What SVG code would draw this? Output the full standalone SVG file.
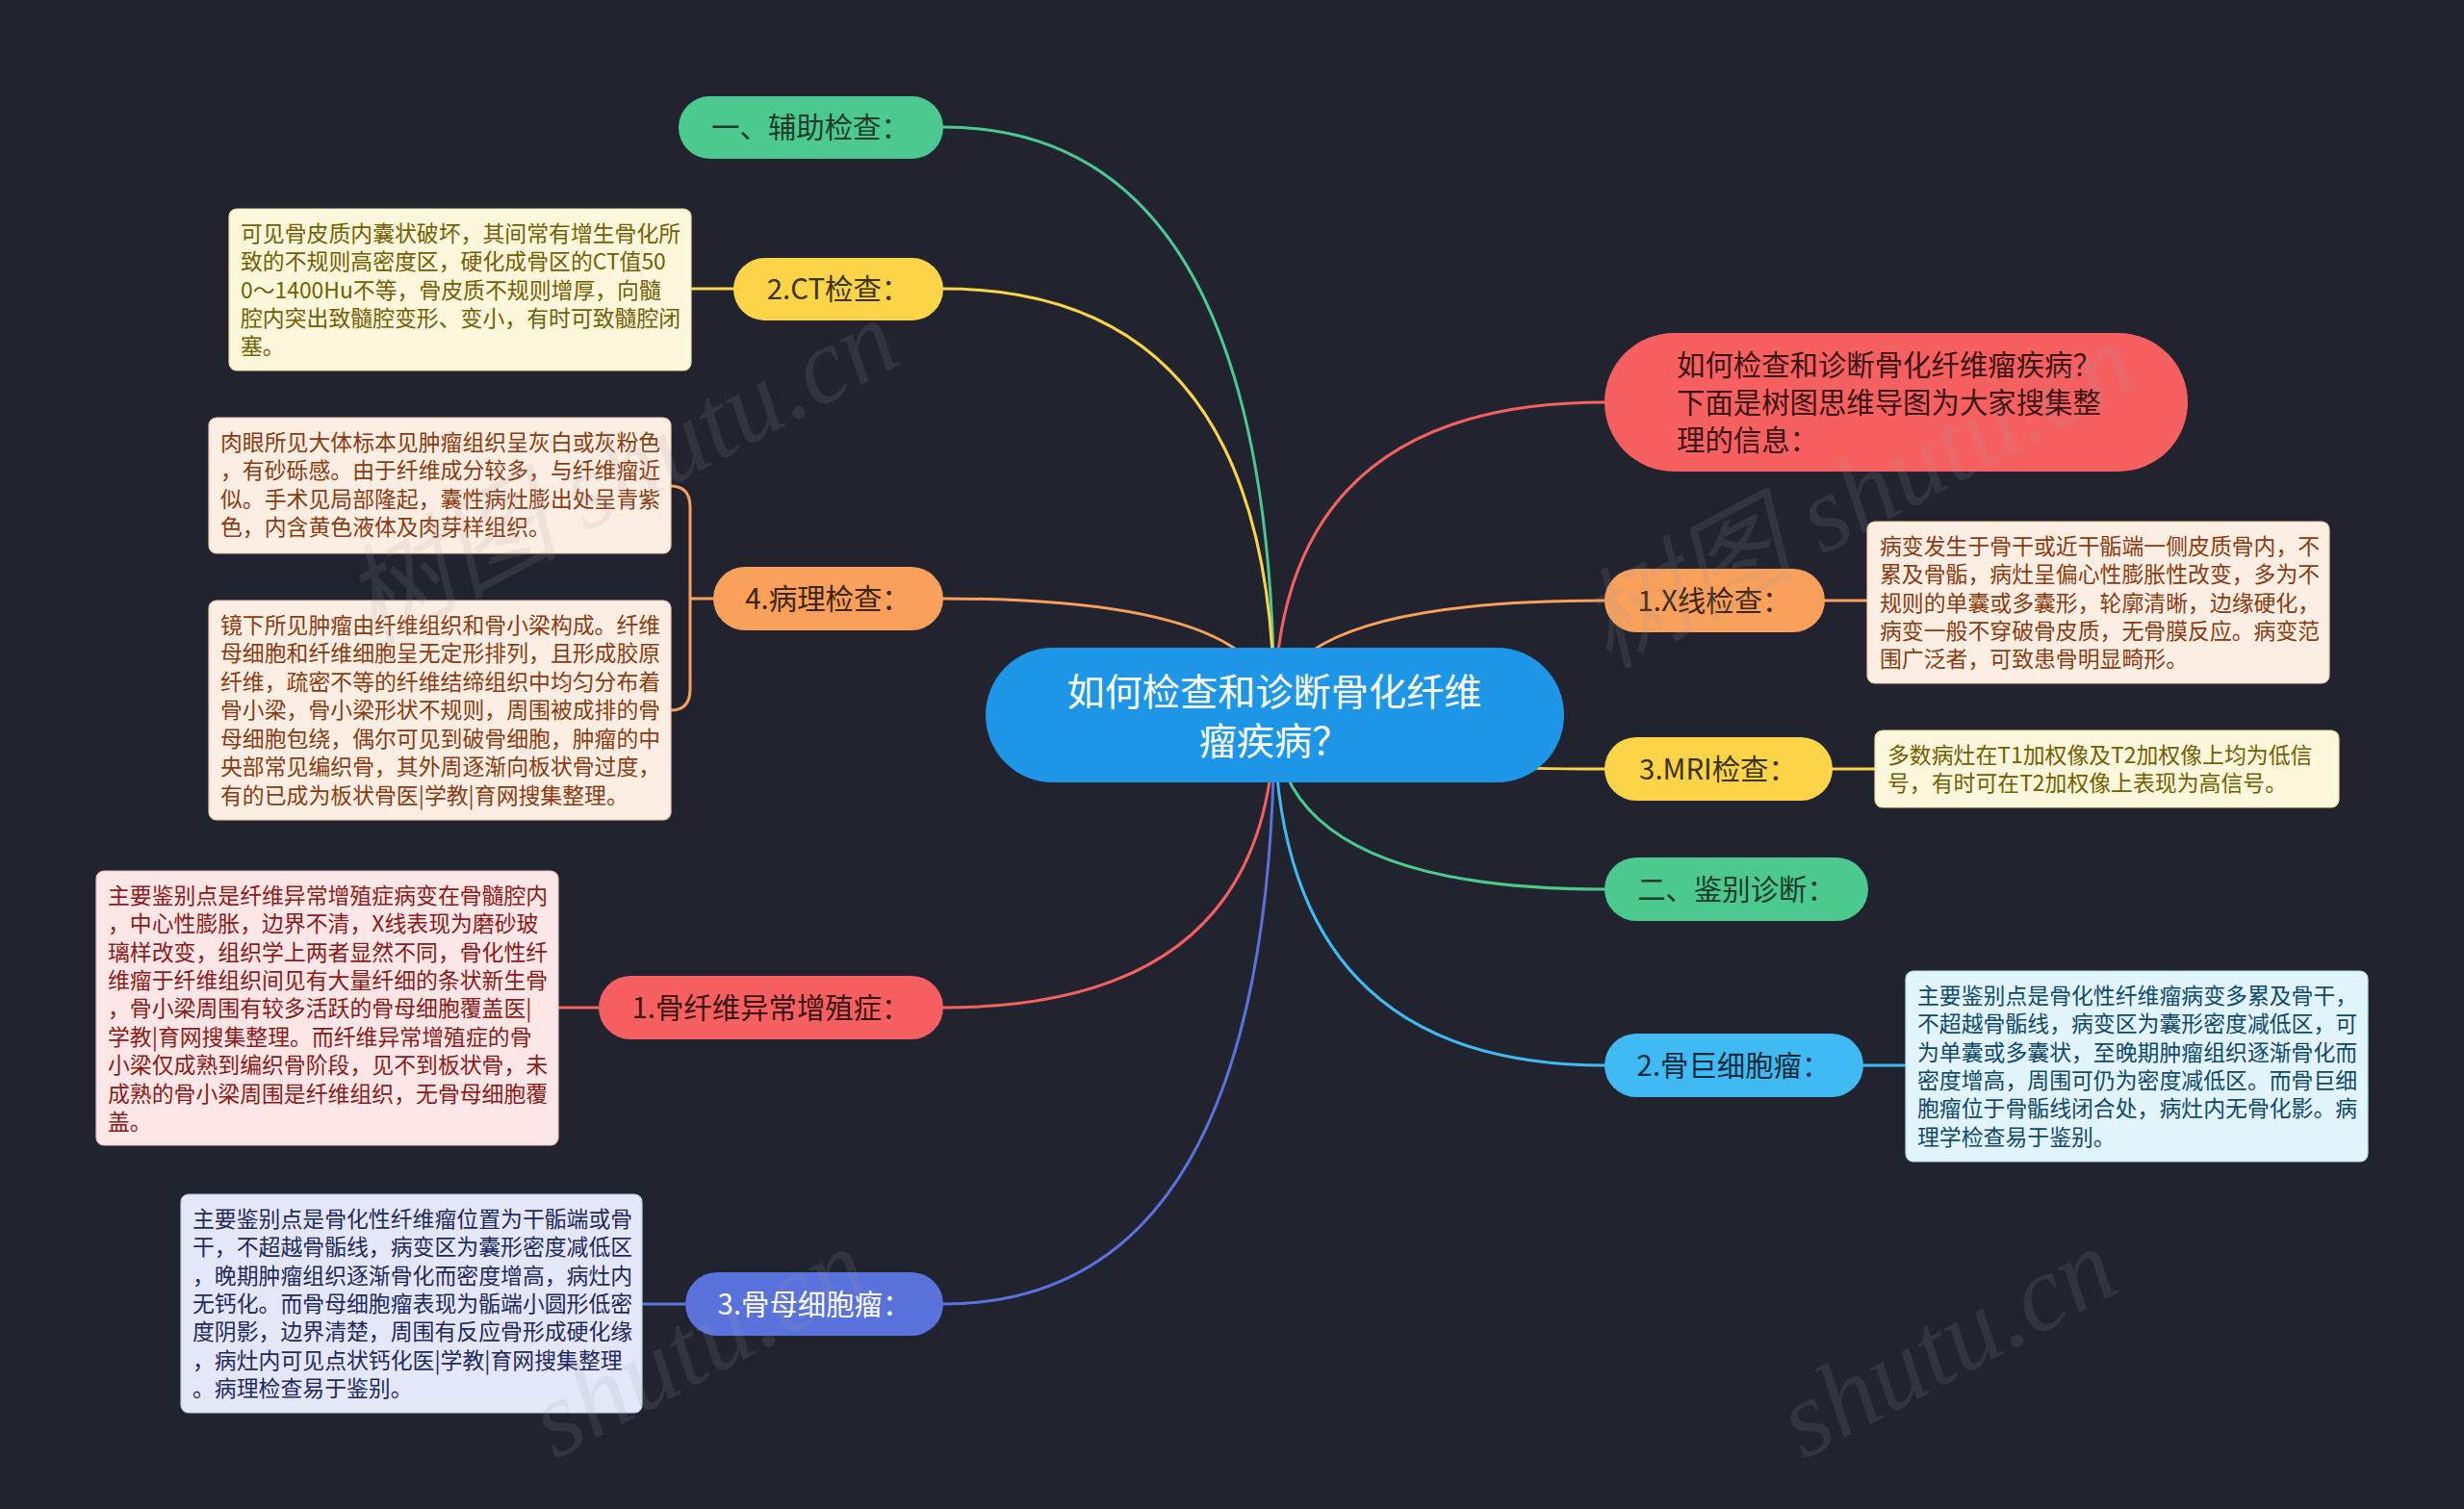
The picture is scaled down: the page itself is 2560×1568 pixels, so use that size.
<svg xmlns="http://www.w3.org/2000/svg" width="2560" height="1568" viewBox="0 0 2560 1568">
<defs>
<style>
.bg{fill:#21232f}
.cn{fill:none;stroke-width:3;stroke-linecap:round}
.t{font-family:"Noto Sans CJK SC","Noto Sans",sans-serif}
.nt{font-size:29.4px}
.bt{font-size:22.86px}
.box{stroke-width:1.2}
.wm{font-family:"Liberation Serif","Noto Sans CJK SC",serif;font-size:112px;font-style:italic;fill:#9a9aa6;fill-opacity:0.14}
</style>
</defs>
<rect class="bg" x="0" y="0" width="2560" height="1568"/>

<g id="connectors">
<path class="cn" stroke="#4cc98e" d="M1324 743 Q1324 132 980 132"/>
<path class="cn" stroke="#fcd447" d="M1324 743 Q1324 300 980 300"/>
<path class="cn" stroke="#f9a05a" d="M1324 743 Q1324 622 980 622"/>
<path class="cn" stroke="#f66060" d="M1324 743 Q1324 1047 980 1047"/>
<path class="cn" stroke="#5a72db" d="M1324 743 Q1324 1355 980 1355"/>
<path class="cn" stroke="#f66060" d="M1324 743 Q1324 418 1667 418"/>
<path class="cn" stroke="#f9a05a" d="M1324 743 Q1324 624 1667 624"/>
<path class="cn" stroke="#fcd447" d="M1324 743 Q1324 799 1667 799"/>
<path class="cn" stroke="#4cc98e" d="M1324 743 Q1324 924 1667 924"/>
<path class="cn" stroke="#40baf2" d="M1324 743 Q1324 1107 1667 1107"/>
<path class="cn" stroke="#fcd447" d="M762 300 L718 300"/>
<path class="cn" stroke="#f9a05a" d="M741 622 L717 622 M717 622 L717 527 Q717 505 697 505 M717 622 L717 716 Q717 738 697 738"/>
<path class="cn" stroke="#f66060" d="M622 1047 L580 1047"/>
<path class="cn" stroke="#5a72db" d="M712 1355 L667 1355"/>
<path class="cn" stroke="#f9a05a" d="M1896 624 L1940 624"/>
<path class="cn" stroke="#fcd447" d="M1904 799 L1948 799"/>
<path class="cn" stroke="#40baf2" d="M1936 1107 L1980 1107"/>
</g>

<g id="center">
<rect x="1024" y="673" width="601" height="140" rx="70" fill="#1e96e8"/>
<text class="t" x="1324" y="733" font-size="39.2" fill="#ffffff" text-anchor="middle">如何检查和诊断骨化纤维</text>
<text class="t" x="1324" y="784" font-size="39.2" fill="#ffffff" text-anchor="middle">瘤疾病？</text>
</g>

<g id="n-aux">
<rect x="705" y="100" width="275" height="65" rx="32.5" fill="#4cc98e"/>
<text class="t nt" x="842" y="143" fill="#1d3a2b" text-anchor="middle">一、辅助检查：</text>
</g>

<g id="n-ct">
<rect x="762" y="268" width="218" height="65" rx="32.5" fill="#fcd447"/>
<text class="t nt" x="871" y="311" fill="#3a3210" text-anchor="middle">2.CT检查：</text>
</g>
<g id="b-ct">
<rect class="box" x="238" y="217" width="480" height="168" rx="8" fill="#fdf7dc" stroke="#e8dca0"/>
<g class="t bt" fill="#735f00">
<text x="250" y="251">可见骨皮质内囊状破坏，其间常有增生骨化所</text>
<text x="250" y="280">致的不规则高密度区，硬化成骨区的CT值50</text>
<text x="250" y="310">0～1400Hu不等，骨皮质不规则增厚，向髓</text>
<text x="250" y="339">腔内突出致髓腔变形、变小，有时可致髓腔闭</text>
<text x="250" y="368">塞。</text>
</g>
</g>

<g id="n-path">
<rect x="741" y="589" width="239" height="66" rx="33" fill="#f9a05a"/>
<text class="t nt" x="860" y="633" fill="#3d2410" text-anchor="middle">4.病理检查：</text>
</g>
<g id="b-path1">
<rect class="box" x="217" y="434" width="480" height="141" rx="8" fill="#fdeee4" stroke="#ecc9b0"/>
<g class="t bt" fill="#8a3c10">
<text x="229" y="468">肉眼所见大体标本见肿瘤组织呈灰白或灰粉色</text>
<text x="229" y="497">，有砂砾感。由于纤维成分较多，与纤维瘤近</text>
<text x="229" y="527">似。手术见局部隆起，囊性病灶膨出处呈青紫</text>
<text x="229" y="556">色，内含黄色液体及肉芽样组织。</text>
</g>
</g>
<g id="b-path2">
<rect class="box" x="217" y="624" width="480" height="228" rx="8" fill="#fdeee4" stroke="#ecc9b0"/>
<g class="t bt" fill="#8a3c10">
<text x="229" y="658">镜下所见肿瘤由纤维组织和骨小梁构成。纤维</text>
<text x="229" y="687">母细胞和纤维细胞呈无定形排列，且形成胶原</text>
<text x="229" y="717">纤维，疏密不等的纤维结缔组织中均匀分布着</text>
<text x="229" y="746">骨小梁，骨小梁形状不规则，周围被成排的骨</text>
<text x="229" y="776">母细胞包绕，偶尔可见到破骨细胞，肿瘤的中</text>
<text x="229" y="805">央部常见编织骨，其外周逐渐向板状骨过度，</text>
<text x="229" y="835">有的已成为板状骨医|学教|育网搜集整理。</text>
</g>
</g>

<g id="n-fd">
<rect x="622" y="1014" width="358" height="66" rx="33" fill="#f66060"/>
<text class="t nt" x="801" y="1058" fill="#3a1414" text-anchor="middle">1.骨纤维异常增殖症：</text>
</g>
<g id="b-fd">
<rect class="box" x="100" y="905" width="480" height="285" rx="8" fill="#fde6e6" stroke="#efc0c0"/>
<g class="t bt" fill="#8b1a1a">
<text x="112" y="939">主要鉴别点是纤维异常增殖症病变在骨髓腔内</text>
<text x="112" y="968">，中心性膨胀，边界不清，X线表现为磨砂玻</text>
<text x="112" y="998">璃样改变，组织学上两者显然不同，骨化性纤</text>
<text x="112" y="1027">维瘤于纤维组织间见有大量纤细的条状新生骨</text>
<text x="112" y="1056">，骨小梁周围有较多活跃的骨母细胞覆盖医|</text>
<text x="112" y="1086">学教|育网搜集整理。而纤维异常增殖症的骨</text>
<text x="112" y="1115">小梁仅成熟到编织骨阶段，见不到板状骨，未</text>
<text x="112" y="1145">成熟的骨小梁周围是纤维组织，无骨母细胞覆</text>
<text x="112" y="1174">盖。</text>
</g>
</g>

<g id="n-ob">
<rect x="712" y="1322" width="268" height="66" rx="33" fill="#5a72db"/>
<text class="t nt" x="846" y="1366" fill="#ffffff" text-anchor="middle">3.骨母细胞瘤：</text>
</g>
<g id="b-ob">
<rect class="box" x="188" y="1241" width="479" height="227" rx="8" fill="#e4e7f7" stroke="#c3c9ea"/>
<g class="t bt" fill="#1e2a5e">
<text x="200" y="1275">主要鉴别点是骨化性纤维瘤位置为干骺端或骨</text>
<text x="200" y="1304">干，不超越骨骺线，病变区为囊形密度减低区</text>
<text x="200" y="1334">，晚期肿瘤组织逐渐骨化而密度增高，病灶内</text>
<text x="200" y="1363">无钙化。而骨母细胞瘤表现为骺端小圆形低密</text>
<text x="200" y="1392">度阴影，边界清楚，周围有反应骨形成硬化缘</text>
<text x="200" y="1422">，病灶内可见点状钙化医|学教|育网搜集整理</text>
<text x="200" y="1451">。病理检查易于鉴别。</text>
</g>
</g>

<g id="n-intro">
<rect x="1667" y="346" width="606" height="144" rx="72" fill="#f66060"/>
<g class="t nt" fill="#3a1414">
<text x="1742" y="390">如何检查和诊断骨化纤维瘤疾病？</text>
<text x="1742" y="429">下面是树图思维导图为大家搜集整</text>
<text x="1742" y="468">理的信息：</text>
</g>
</g>

<g id="n-xray">
<rect x="1667" y="591" width="229" height="66" rx="33" fill="#f9a05a"/>
<text class="t nt" x="1781" y="635" fill="#3d2410" text-anchor="middle">1.X线检查：</text>
</g>
<g id="b-xray">
<rect class="box" x="1940" y="542" width="480" height="168" rx="8" fill="#fdeee4" stroke="#ecc9b0"/>
<g class="t bt" fill="#8a3c10">
<text x="1953" y="576">病变发生于骨干或近干骺端一侧皮质骨内，不</text>
<text x="1953" y="605">累及骨骺，病灶呈偏心性膨胀性改变，多为不</text>
<text x="1953" y="635">规则的单囊或多囊形，轮廓清晰，边缘硬化，</text>
<text x="1953" y="664">病变一般不穿破骨皮质，无骨膜反应。病变范</text>
<text x="1953" y="693">围广泛者，可致患骨明显畸形。</text>
</g>
</g>

<g id="n-mri">
<rect x="1667" y="766" width="237" height="66" rx="33" fill="#fcd447"/>
<text class="t nt" x="1785" y="810" fill="#3a3210" text-anchor="middle">3.MRI检查：</text>
</g>
<g id="b-mri">
<rect class="box" x="1948" y="759" width="482" height="80" rx="8" fill="#fdf7dc" stroke="#e8dca0"/>
<g class="t bt" fill="#735f00">
<text x="1961" y="793">多数病灶在T1加权像及T2加权像上均为低信</text>
<text x="1961" y="822">号，有时可在T2加权像上表现为高信号。</text>
</g>
</g>

<g id="n-diff">
<rect x="1667" y="891" width="274" height="66" rx="33" fill="#4cc98e"/>
<text class="t nt" x="1804" y="935" fill="#1d3a2b" text-anchor="middle">二、鉴别诊断：</text>
</g>

<g id="n-gct">
<rect x="1667" y="1074" width="269" height="66" rx="33" fill="#40baf2"/>
<text class="t nt" x="1801" y="1118" fill="#0e2a3a" text-anchor="middle">2.骨巨细胞瘤：</text>
</g>
<g id="b-gct">
<rect class="box" x="1980" y="1009" width="480" height="198" rx="8" fill="#e2f4fc" stroke="#b6def0"/>
<g class="t bt" fill="#0f4a6a">
<text x="1992" y="1043">主要鉴别点是骨化性纤维瘤病变多累及骨干，</text>
<text x="1992" y="1072">不超越骨骺线，病变区为囊形密度减低区，可</text>
<text x="1992" y="1102">为单囊或多囊状，至晚期肿瘤组织逐渐骨化而</text>
<text x="1992" y="1131">密度增高，周围可仍为密度减低区。而骨巨细</text>
<text x="1992" y="1160">胞瘤位于骨骺线闭合处，病灶内无骨化影。病</text>
<text x="1992" y="1190">理学检查易于鉴别。</text>
</g>
</g>

<g id="watermarks">
<text class="wm" x="645" y="490" text-anchor="middle" dominant-baseline="central" transform="rotate(-28 645 490)">树图 shutu.cn</text>
<text class="wm" x="1930" y="514" text-anchor="middle" dominant-baseline="central" transform="rotate(-28 1930 514)">树图 shutu.cn</text>
<text class="wm" x="725" y="1395" text-anchor="middle" dominant-baseline="central" transform="rotate(-28 725 1395)">shutu.cn</text>
<text class="wm" x="2022" y="1395" text-anchor="middle" dominant-baseline="central" transform="rotate(-28 2022 1395)">shutu.cn</text>
</g>
</svg>
